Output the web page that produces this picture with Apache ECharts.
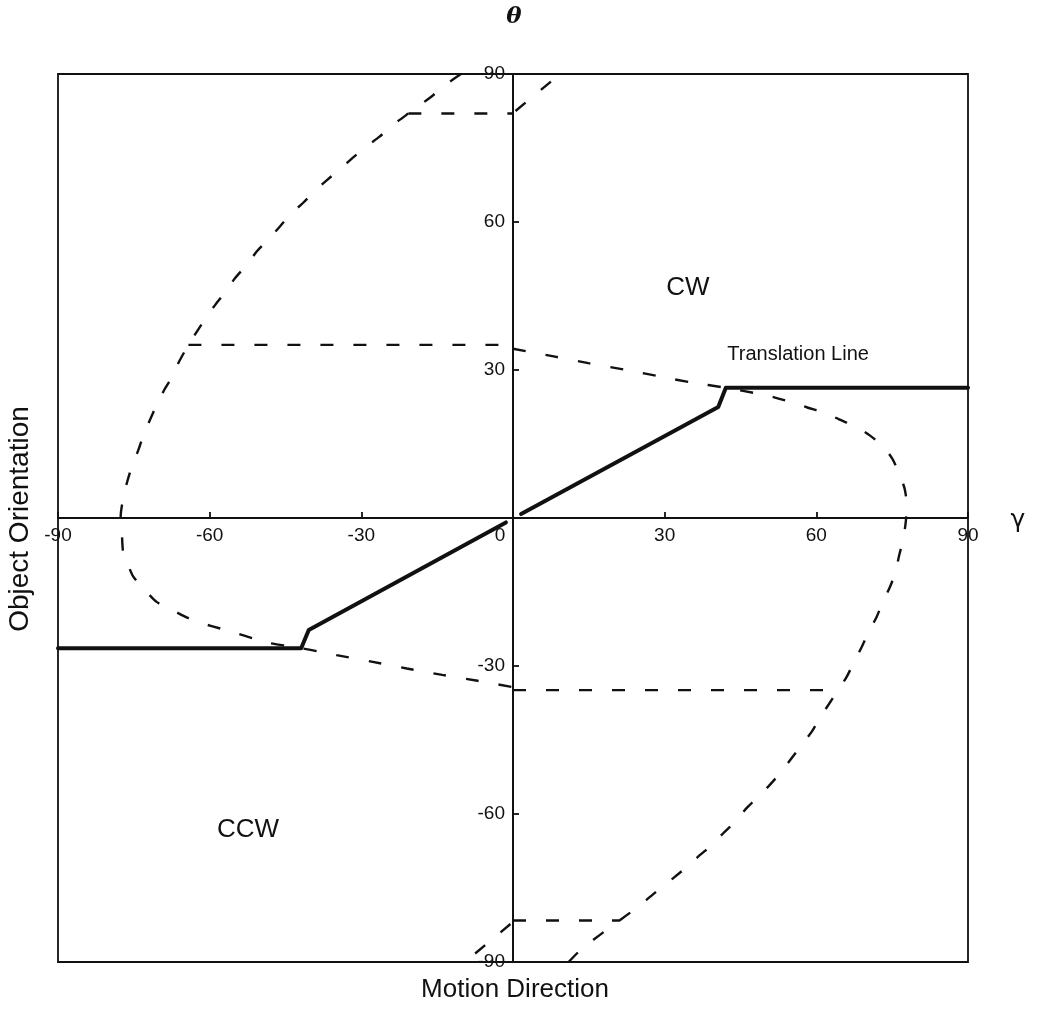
<!DOCTYPE html>
<html>
<head>
<meta charset="utf-8">
<script src="https://cdn.jsdelivr.net/npm/echarts@6/dist/echarts.min.js"></script>
<style>
  html, body { margin: 0; padding: 0; background: #ffffff; }
  #chart { width: 1038px; height: 1014px; }
</style>
</head>
<body>
<div id="chart"></div>
<script>
// Axis ticks shared by both axes (degrees)
const axisTicks = [-90, -60, -30, 0, 30, 60, 90];

// Translation line: [motion direction γ, object orientation θ]
const translationLeft = [[-90, -26.4], [-41.9, -26.4], [-40.4, -22.7], [-1.4, -0.9]];
const translationRight = [[1.6, 0.8], [40.6, 22.5], [42.1, 26.4], [90, 26.4]];

// Left boundary: from the top edge, round the left side, back to the θ axis
const boundaryLeft = [
  [-10.3, 90], [-13.1, 88], [-15.8, 85.7], [-18.4, 83.7], [-20.7, 82], [-23.7, 79.7],
  [-26.4, 77.3], [-28.9, 75.4], [-31.6, 73.1], [-33.9, 71], [-36.8, 68.5], [-39, 66.5],
  [-41.6, 63.8], [-43.8, 61.8], [-46.1, 59.1], [-48.2, 56.7], [-50.7, 54], [-52.4, 51.6],
  [-55, 48.6], [-56.6, 46.2], [-58.9, 43.2], [-60.6, 40.8], [-62.4, 38], [-64.2, 35.1],
  [-66.2, 31.4], [-67.2, 29], [-68.8, 26.3], [-70.5, 22.9], [-71.8, 19.9], [-73.1, 16.8],
  [-74.1, 13.8], [-75.4, 10.4], [-76.3, 7.4], [-77.1, 4], [-77.6, 0.3], [-77.4, -2.4],
  [-77.1, -7.1], [-76.3, -9.1], [-75.1, -11.9], [-72.8, -14.6], [-70.5, -17], [-67.5, -18.6],
  [-64.2, -20.3], [-61.3, -21.4], [-57.9, -22.4], [-54.6, -23.4], [-51.4, -24.4], [-48.4, -25.3],
  [-45, -25.9], [-41.9, -26.4], [-38.2, -27.1], [-34.9, -27.8], [-28, -29.1], [-21, -30.5],
  [-14, -31.8], [-7, -33], [0, -34.3]
];

// Right boundary: from the θ axis, round the right side, down to the bottom edge
const boundaryRight = [
  [0, 34.3], [8.3, 32.7], [14.9, 31.4], [21.9, 30.1], [28.5, 28.8], [35.1, 27.5],
  [42.1, 26.4], [48.9, 25.1], [51.5, 24.5], [55.3, 23.4], [58.2, 22.4], [61.7, 21.3],
  [64.5, 20], [67.8, 18.5], [70.5, 16.8], [73.2, 14.5], [75.1, 11.9], [76.5, 8.7],
  [77.5, 5.8], [77.9, 2.3], [77.7, -0.7], [77.2, -4.3], [76.4, -7.5], [75.6, -11.1],
  [74.6, -13.9], [73.1, -17.2], [71.9, -20.1], [70.3, -23.2], [69, -26.1], [67.4, -29.3],
  [66, -32.2], [64.3, -34.9], [62.5, -37.7], [60.7, -40.5], [59.1, -43.3], [57.1, -46],
  [55.1, -48.7], [53.1, -51.4], [50.8, -54.1], [48.5, -56.5], [46.2, -58.8], [43.9, -61.6],
  [41.6, -63.9], [39.3, -66.3], [37, -68.3], [34.4, -70.7], [31.7, -73], [29.1, -75.1],
  [26.4, -77.4], [23.8, -79.5], [21.2, -81.5], [18.5, -83.5], [15.9, -85.5], [13.3, -87.6],
  [11, -90]
];

// Horizontal boundary pieces and the short wrap-around pieces at θ = ±90
const levelUpper = [[-64.2, 35.1], [0, 35.1]];
const levelLower = [[0, -34.9], [64.3, -34.9]];
const levelTop = [[-20.7, 82], [0, 82]];
const levelBottom = [[0, -81.6], [21.2, -81.6]];
const wrapTop = [[0.5, 82.5], [9.3, 90]];
const wrapBottom = [[-0.5, -82.3], [-9.5, -90]];

// Region and line annotations placed in data coordinates
const regionLabels = [
  { name: 'CW', value: [34.6, 46.6], size: 26 },
  { name: 'CCW', value: [-52.4, -63.2], size: 26 },
  { name: 'Translation Line', value: [56.4, 33.2], size: 20 }
];

const INK = '#111111';
const FONT = '"Liberation Sans", Arial, Helvetica, sans-serif';

// Plot rectangle in pixels; the two axes cross through its centre
const GRID = { left: 58, right: 70, top: 74, bottom: 52 };
const plotW = 1038 - GRID.left - GRID.right;
const plotH = 1014 - GRID.top - GRID.bottom;

const chart = echarts.init(document.getElementById('chart'), null, { renderer: 'canvas' });

function dashed(name, data, smooth) {
  return {
    name, type: 'line', data, showSymbol: false, symbol: 'none', silent: true, clip: false,
    smooth: smooth || false,
    lineStyle: { color: INK, width: 2.4, type: [13, 20] }, z: 3
  };
}
function solid(name, data) {
  return {
    name, type: 'line', data, showSymbol: false, symbol: 'none', silent: true, clip: false,
    lineStyle: { color: INK, width: 4, join: 'round', cap: 'round' }, z: 4
  };
}

const axisCommon = {
  type: 'value',
  min: axisTicks[0],
  max: axisTicks[axisTicks.length - 1],
  interval: axisTicks[1] - axisTicks[0],
  splitLine: { show: false },
  axisLine: { show: true, onZero: false, lineStyle: { color: INK, width: 2 } },
  axisTick: { show: true, inside: true, length: 6, lineStyle: { color: INK, width: 1.8 } }
};

chart.setOption({
  animation: false,
  backgroundColor: '#ffffff',
  grid: Object.assign({}, GRID, {
    show: true, borderColor: INK, borderWidth: 1.8, backgroundColor: 'transparent'
  }),
  xAxis: Object.assign({}, axisCommon, {
    position: 'bottom',
    offset: -plotH / 2,
    axisLabel: {
      color: INK, fontSize: 19, fontFamily: FONT, margin: 8,
      formatter: v => (v === 0 ? '{z|0}' : String(v)),
      rich: { z: { color: INK, fontSize: 19, fontFamily: FONT, padding: [0, 26, 0, 0] } }
    }
  }),
  yAxis: Object.assign({}, axisCommon, {
    position: 'left',
    offset: -plotW / 2,
    axisLabel: {
      color: INK, fontSize: 19, fontFamily: FONT, margin: 8,
      formatter: v => (v === 0 ? '' : String(v))
    }
  }),
  series: [
    dashed('boundaryLeft', boundaryLeft, 0.25),
    dashed('boundaryRight', boundaryRight, 0.25),
    dashed('levelUpper', levelUpper),
    dashed('levelLower', levelLower),
    dashed('levelTop', levelTop),
    dashed('levelBottom', levelBottom),
    dashed('wrapTop', wrapTop),
    dashed('wrapBottom', wrapBottom),
    solid('translationLeft', translationLeft),
    solid('translationRight', translationRight),
    {
      name: 'regionLabels', type: 'scatter', silent: true, symbolSize: 0, z: 5,
      itemStyle: { opacity: 1 },
      data: regionLabels.map(d => ({
        name: d.name, value: d.value,
        label: {
          show: true, position: 'inside', formatter: '{b}', opacity: 1,
          color: INK, fontSize: d.size, fontFamily: FONT
        }
      }))
    }
  ],
  graphic: [
    {
      type: 'text', x: 514, y: 17,
      style: {
        text: 'θ', fill: INK, align: 'center', verticalAlign: 'middle',
        font: 'italic bold 23px "DejaVu Serif", "Liberation Serif", serif'
      }
    },
    {
      type: 'text', x: 1018, y: 520,
      style: {
        text: 'γ', fill: INK, align: 'center', verticalAlign: 'middle',
        font: '25px "DejaVu Sans", "Liberation Sans", sans-serif'
      }
    },
    {
      type: 'text', x: 515, y: 990,
      style: {
        text: 'Motion Direction', fill: INK, align: 'center', verticalAlign: 'middle',
        font: '26px ' + FONT
      }
    },
    {
      type: 'text', x: 20, y: 519, rotation: Math.PI / 2,
      style: {
        text: 'Object Orientation', fill: INK, align: 'center', verticalAlign: 'middle',
        font: '28px ' + FONT
      }
    }
  ]
});
</script>
</body>
</html>
